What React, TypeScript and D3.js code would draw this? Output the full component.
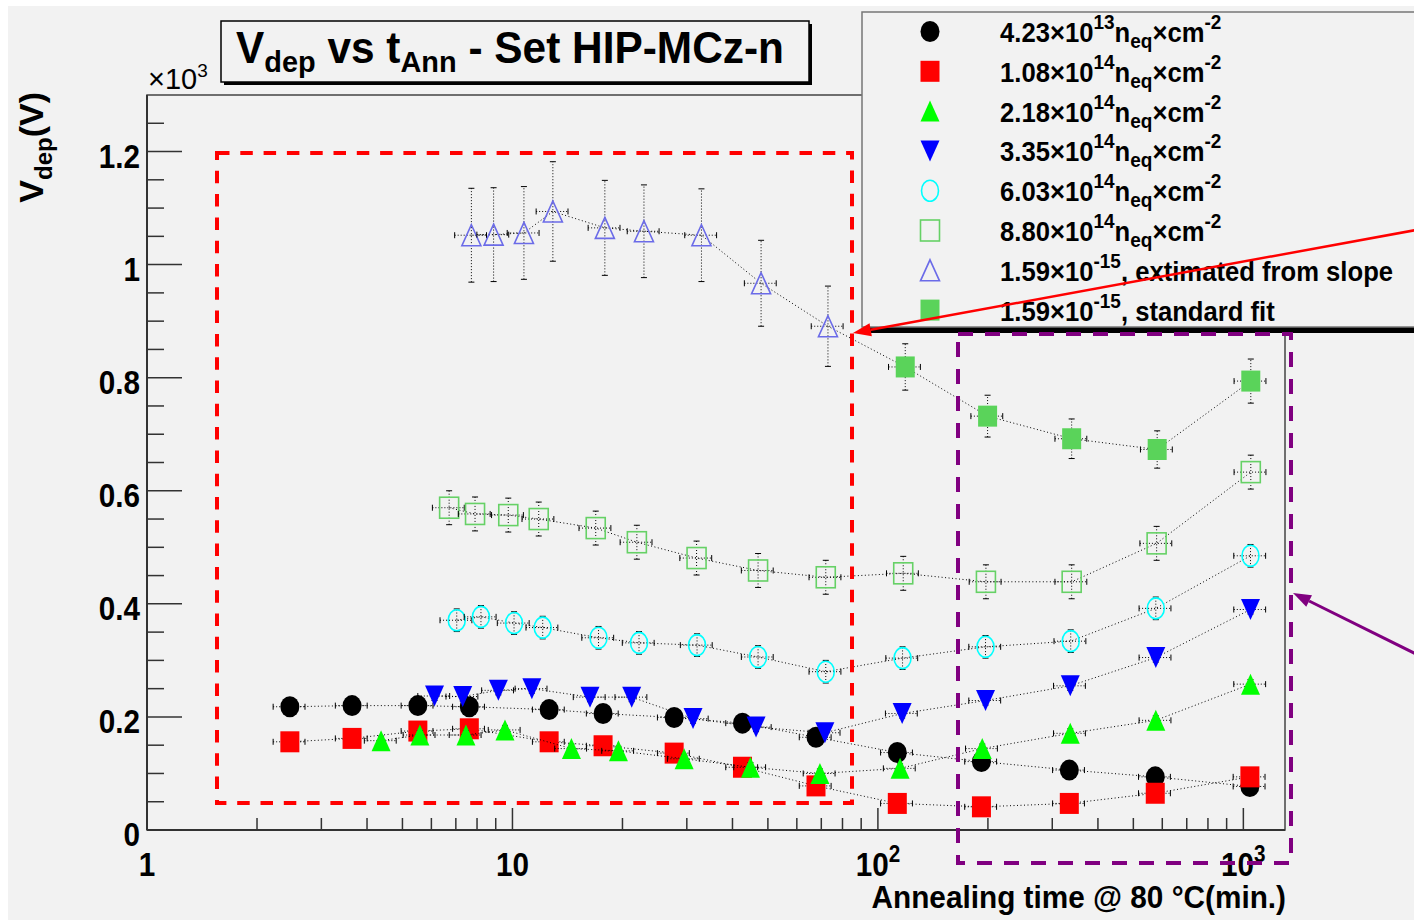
import * as d3 from 'd3';

// annealing time (min) / depletion voltage (V) per fluence
const tBlack = [2.46, 3.64, 5.51, 7.62, 12.6, 17.7, 27.7, 42.6, 67.7, 113, 192, 334, 574, 1042];
const vBlack = [218, 220, 220, 218, 213, 206, 199, 189, 164, 137, 121, 106, 94, 77];
const vRed = [156, 162, 175, 179, 156, 149, 136, 111, 78, 47, 41, 47, 65, 94];
const tGreen = [4.37, 5.58, 7.46, 9.54, 14.5, 19.5, 29.5, 44.8, 69.4, 115, 193, 336, 576, 1046];
const vGreen = [158, 168, 168, 177, 144, 140, 126, 111, 100, 109, 144, 171, 194, 258];
const tBlue = [6.12, 7.31, 9.15, 11.3, 16.3, 21.2, 31.2, 46.4, 71.6, 116.5, 197, 336, 576, 1046];
const vBlue = [237, 236, 247, 250, 235, 235, 197, 182, 172, 206, 229, 255, 305, 390];
const tCyan = [7.04, 8.2, 10.1, 12.1, 17.2, 22.2, 32.0, 47.0, 72.0, 116.8, 197, 337, 576, 1046];
const vCyan = [371, 377, 366, 358, 340, 331, 327, 306, 280, 304, 324, 334, 392, 485];
const tOpenSq = [6.71, 7.9, 9.74, 11.8, 16.9, 21.9, 31.9, 47.0, 72.0, 117.3, 197.5, 339, 579, 1048];
const vOpenSq = [570, 559, 557, 550, 534, 509, 481, 459, 447, 454, 439, 439, 507, 633];
const tSlope = [7.72, 8.88, 10.75, 12.9, 17.9, 22.9, 32.9, 47.9, 73.0];
const vSlope = [1052, 1053, 1056, 1094, 1065, 1059, 1052, 967, 891];
const eSlope = [83, 83, 82, 88, 84, 82, 82, 76, 71];
const tFit = [118.8, 199.6, 339, 581, 1048];
const vFit = [819, 732, 692, 673, 794];
const eFit = [41, 37, 35, 33, 39];

// rough voltage errors for the six measured sets (mostly hidden by markers)
const measErr = [8, 8, 8, 8, 20, 30];
const xErrFrac = 0.1;

const legendMantissa = ['4.23', '1.08', '2.18', '3.35', '6.03', '8.80', '1.59', '1.59'];
const legendExp = ['13', '14', '14', '14', '14', '14', '-15', '-15'];
const legendTail = [', extimated from slope', ', standard fit'];

const yTicks = [0, 200, 400, 600, 800, 1000, 1200];
const yTickLabels = ['0', '0.2', '0.4', '0.6', '0.8', '1', '1.2'];
const xTicks = [1, 10, 100, 1000];
const xTickBase = ['1', '10', '10', '10'];
const xTickExp = ['', '', '2', '3'];

const FONT = '"Liberation Sans", Arial, Helvetica, sans-serif';

const x = d3.scaleLog().domain([1, 1300]).range([147, 1285]);
const y = d3.scaleLinear().domain([0, 1300]).range([830, 95]);

function Marker({ shape, color, cx, cy }) {
	const hw = 9.5;
	const hh = 10.5;
	const open = shape.startsWith('open');
	const paint = open
		? { fill: 'none', stroke: color, strokeWidth: 1.6 }
		: { fill: color };
	if (shape === 'circle' || shape === 'openCircle')
		return <ellipse cx={cx} cy={cy} rx={open ? 8.5 : hw} ry={hh} {...paint} />;
	if (shape === 'square' || shape === 'openSquare')
		return (
			<rect x={cx - hw} y={cy - hh} width={hw * 2} height={hh * 2} {...paint} />
		);
	if (shape === 'triDown')
		return (
			<polygon
				points={`${cx - hw},${cy - hh} ${cx + hw},${cy - hh} ${cx},${cy + hh}`}
				{...paint}
			/>
		);
	return (
		<polygon
			points={`${cx},${cy - hh} ${cx + hw},${cy + hh} ${cx - hw},${cy + hh}`}
			{...paint}
		/>
	);
}

// text squeezed horizontally, like the ROOT output
function T({ x, y, sx = 1, rotate = 0, children, ...rest }) {
	return (
		<text
			transform={`translate(${x},${y}) rotate(${rotate}) scale(${sx},1)`}
			fontWeight='bold'
			{...rest}>
			{children}
		</text>
	);
}

const series = [
	{ t: tBlack, v: vBlack, err: tBlack.map(() => measErr[0]), shape: 'circle', color: '#000000' },
	{ t: tBlack, v: vRed, err: tBlack.map(() => measErr[1]), shape: 'square', color: '#ff0000' },
	{ t: tGreen, v: vGreen, err: tGreen.map(() => measErr[2]), shape: 'triUp', color: '#00ff00' },
	{ t: tBlue, v: vBlue, err: tBlue.map(() => measErr[3]), shape: 'triDown', color: '#0000ff' },
	{ t: tCyan, v: vCyan, err: tCyan.map(() => measErr[4]), shape: 'openCircle', color: '#00ffff' },
	{ t: tOpenSq, v: vOpenSq, err: tOpenSq.map(() => measErr[5]), shape: 'openSquare', color: '#66d166' },
	{ t: tSlope, v: vSlope, err: eSlope, shape: 'openTriUp', color: '#6b6be8' },
	{ t: tFit, v: vFit, err: eFit, shape: 'square', color: '#5ad35a' },
];

const line = d3
	.line<[number, number]>()
	.x((d) => x(d[0]))
	.y((d) => y(d[1]));

function Arrow({ x1, y1, x2, y2, color, width }) {
	const ang = Math.atan2(y2 - y1, x2 - x1);
	const len = 18;
	const hw = 6.5;
	const bx = x2 - len * Math.cos(ang);
	const by = y2 - len * Math.sin(ang);
	const px = -Math.sin(ang) * hw;
	const py = Math.cos(ang) * hw;
	return (
		<g>
			<line x1={x1} y1={y1} x2={bx} y2={by} stroke={color} strokeWidth={width} />
			<polygon
				points={`${x2},${y2} ${bx + px},${by + py} ${bx - px},${by - py}`}
				fill={color}
			/>
		</g>
	);
}

export default function App() {
	const yMinor = d3.range(50, 1300, 50).filter((d) => d % 200 !== 0);
	const xMinor = [1, 10, 100]
		.flatMap((dec) => d3.range(2, 10).map((k) => k * dec))
		.filter((d) => d <= 1300);

	return (
		<svg
			width={1414}
			height={920}
			style={{ position: 'fixed', left: 0, top: 0 }}
			fontFamily={FONT}>
			<rect width={1414} height={920} fill='#ffffff' />
			<rect x={8} y={6} width={1406} height={914} fill='#f2f2f2' />

			{/* frame */}
			<rect x={147} y={95} width={1285 - 147} height={830 - 95} fill='none' stroke='#444' strokeWidth={1.5} />
			<line x1={147} y1={830} x2={1285} y2={830} stroke='#333' strokeWidth={2} />
			<line x1={147} y1={95} x2={147} y2={830} stroke='#333' strokeWidth={2} />

			{/* y axis */}
			{yTicks.map((d, i) => (
				<g key={'yt' + i}>
					<line x1={147} x2={182} y1={y(d)} y2={y(d)} stroke='#333' strokeWidth={1.5} />
					<T x={140} y={y(d) + 16} sx={0.9} fontSize={33} textAnchor='end'>
						{yTickLabels[i]}
					</T>
				</g>
			))}
			{yMinor.map((d) => (
				<line key={'ym' + d} x1={147} x2={164} y1={y(d)} y2={y(d)} stroke='#333' strokeWidth={1.5} />
			))}

			{/* x axis */}
			{xTicks.map((d, i) => (
				<g key={'xt' + i}>
					<line x1={x(d)} x2={x(d)} y1={830} y2={808} stroke='#333' strokeWidth={1.5} />
					<T x={x(d)} y={876} sx={0.9} fontSize={33} textAnchor='middle'>
						{xTickBase[i]}
						{xTickExp[i] && (
							<tspan dy={-14} fontSize={23}>
								{xTickExp[i]}
							</tspan>
						)}
					</T>
				</g>
			))}
			{xMinor.map((d) => (
				<line key={'xm' + d} x1={x(d)} x2={x(d)} y1={830} y2={818} stroke='#333' strokeWidth={1.5} />
			))}

			<T x={1286} y={908} sx={0.93} fontSize={32} textAnchor='end'>
				Annealing time @ 80 °C(min.)
			</T>
			<T x={43} y={92} rotate={-90} fontSize={34} textAnchor='end'>
				V
				<tspan dy={9} fontSize={24}>
					dep
				</tspan>
				<tspan dy={-9}>(V)</tspan>
			</T>
			<text x={148} y={89} fontSize={29}>
				×10
				<tspan dy={-12} fontSize={19}>
					3
				</tspan>
			</text>

			{/* connecting lines + data */}
			{series.map((s, si) => {
				const pts = s.t.map((t, i) => [t, s.v[i]] as [number, number]);
				const chain = si === 6 ? pts.concat([[tFit[0], vFit[0]]]) : pts;
				return (
					<g key={'s' + si}>
						<path d={line(chain)} fill='none' stroke='#000' strokeWidth={1} strokeDasharray='1,2.5' />
						{pts.map(([t, v], i) => {
							const cx = x(t);
							const cy = y(v);
							const x0 = x(t * (1 - xErrFrac));
							const x1 = x(t * (1 + xErrFrac));
							const y0 = y(v - s.err[i]);
							const y1 = y(v + s.err[i]);
							return (
								<g key={i}>
									<g stroke='#000' strokeWidth={1}>
										<line x1={x0} x2={x1} y1={cy} y2={cy} strokeDasharray='1,2' />
										<line x1={cx} x2={cx} y1={y0} y2={y1} strokeDasharray='1,2' />
										<line x1={x0} x2={x0} y1={cy - 3} y2={cy + 3} />
										<line x1={x1} x2={x1} y1={cy - 3} y2={cy + 3} />
										<line x1={cx - 3} x2={cx + 3} y1={y0} y2={y0} />
										<line x1={cx - 3} x2={cx + 3} y1={y1} y2={y1} />
									</g>
									<Marker shape={s.shape} color={s.color} cx={cx} cy={cy} />
								</g>
							);
						})}
					</g>
				);
			})}

			{/* red dashed region */}
			<rect x={217} y={153} width={852 - 217} height={803 - 153} fill='none' stroke='#ff0000' strokeWidth={4} strokeDasharray='12.5,10.8' />

			{/* title */}
			<rect x={224} y={24} width={588} height={61} fill='#000' />
			<rect x={221} y={21} width={588} height={61} fill='#f2f2f2' stroke='#000' strokeWidth={1.5} />
			<text x={236} y={63} fontSize={44} fontWeight='bold' textLength={548} lengthAdjust='spacingAndGlyphs'>
				V
				<tspan dy={9} fontSize={30}>
					dep
				</tspan>
				<tspan dy={-9}>{' vs t'}</tspan>
				<tspan dy={9} fontSize={30}>
					Ann
				</tspan>
				<tspan dy={-9}>{' - Set HIP-MCz-n'}</tspan>
			</text>

			{/* legend */}
			<rect x={867} y={17} width={600} height={316} fill='#000' />
			<rect x={862} y={12} width={600} height={315} fill='#f2f2f2' stroke='#777' strokeWidth={1.5} />
			{series.map((s, i) => {
				const cy = 31.5 + i * 39.8;
				const by = cy + 10.5;
				return (
					<g key={'lg' + i}>
						<Marker shape={s.shape} color={s.color} cx={930} cy={cy} />
						<T x={1000} y={by} sx={0.95} fontSize={27}>
							{legendMantissa[i]}×10
							<tspan dy={-13} fontSize={20}>
								{legendExp[i]}
							</tspan>
							{i < 6 ? (
								<>
									<tspan dy={13}>n</tspan>
									<tspan dy={6} fontSize={20}>
										eq
									</tspan>
									<tspan dy={-6}>×cm</tspan>
									<tspan dy={-13} fontSize={20}>
										-2
									</tspan>
								</>
							) : (
								<tspan dy={13}>{legendTail[i - 6]}</tspan>
							)}
						</T>
					</g>
				);
			})}

			{/* purple dashed region */}
			<rect x={958} y={334} width={1291 - 958} height={863 - 334} fill='none' stroke='#800080' strokeWidth={4} strokeDasharray='15,12' />

			<Arrow x1={1416} y1={230} x2={853} y2={333} color='#ff0000' width={2.5} />
			<Arrow x1={1416} y1={654} x2={1293} y2={593} color='#800080' width={3} />
		</svg>
	);
}
